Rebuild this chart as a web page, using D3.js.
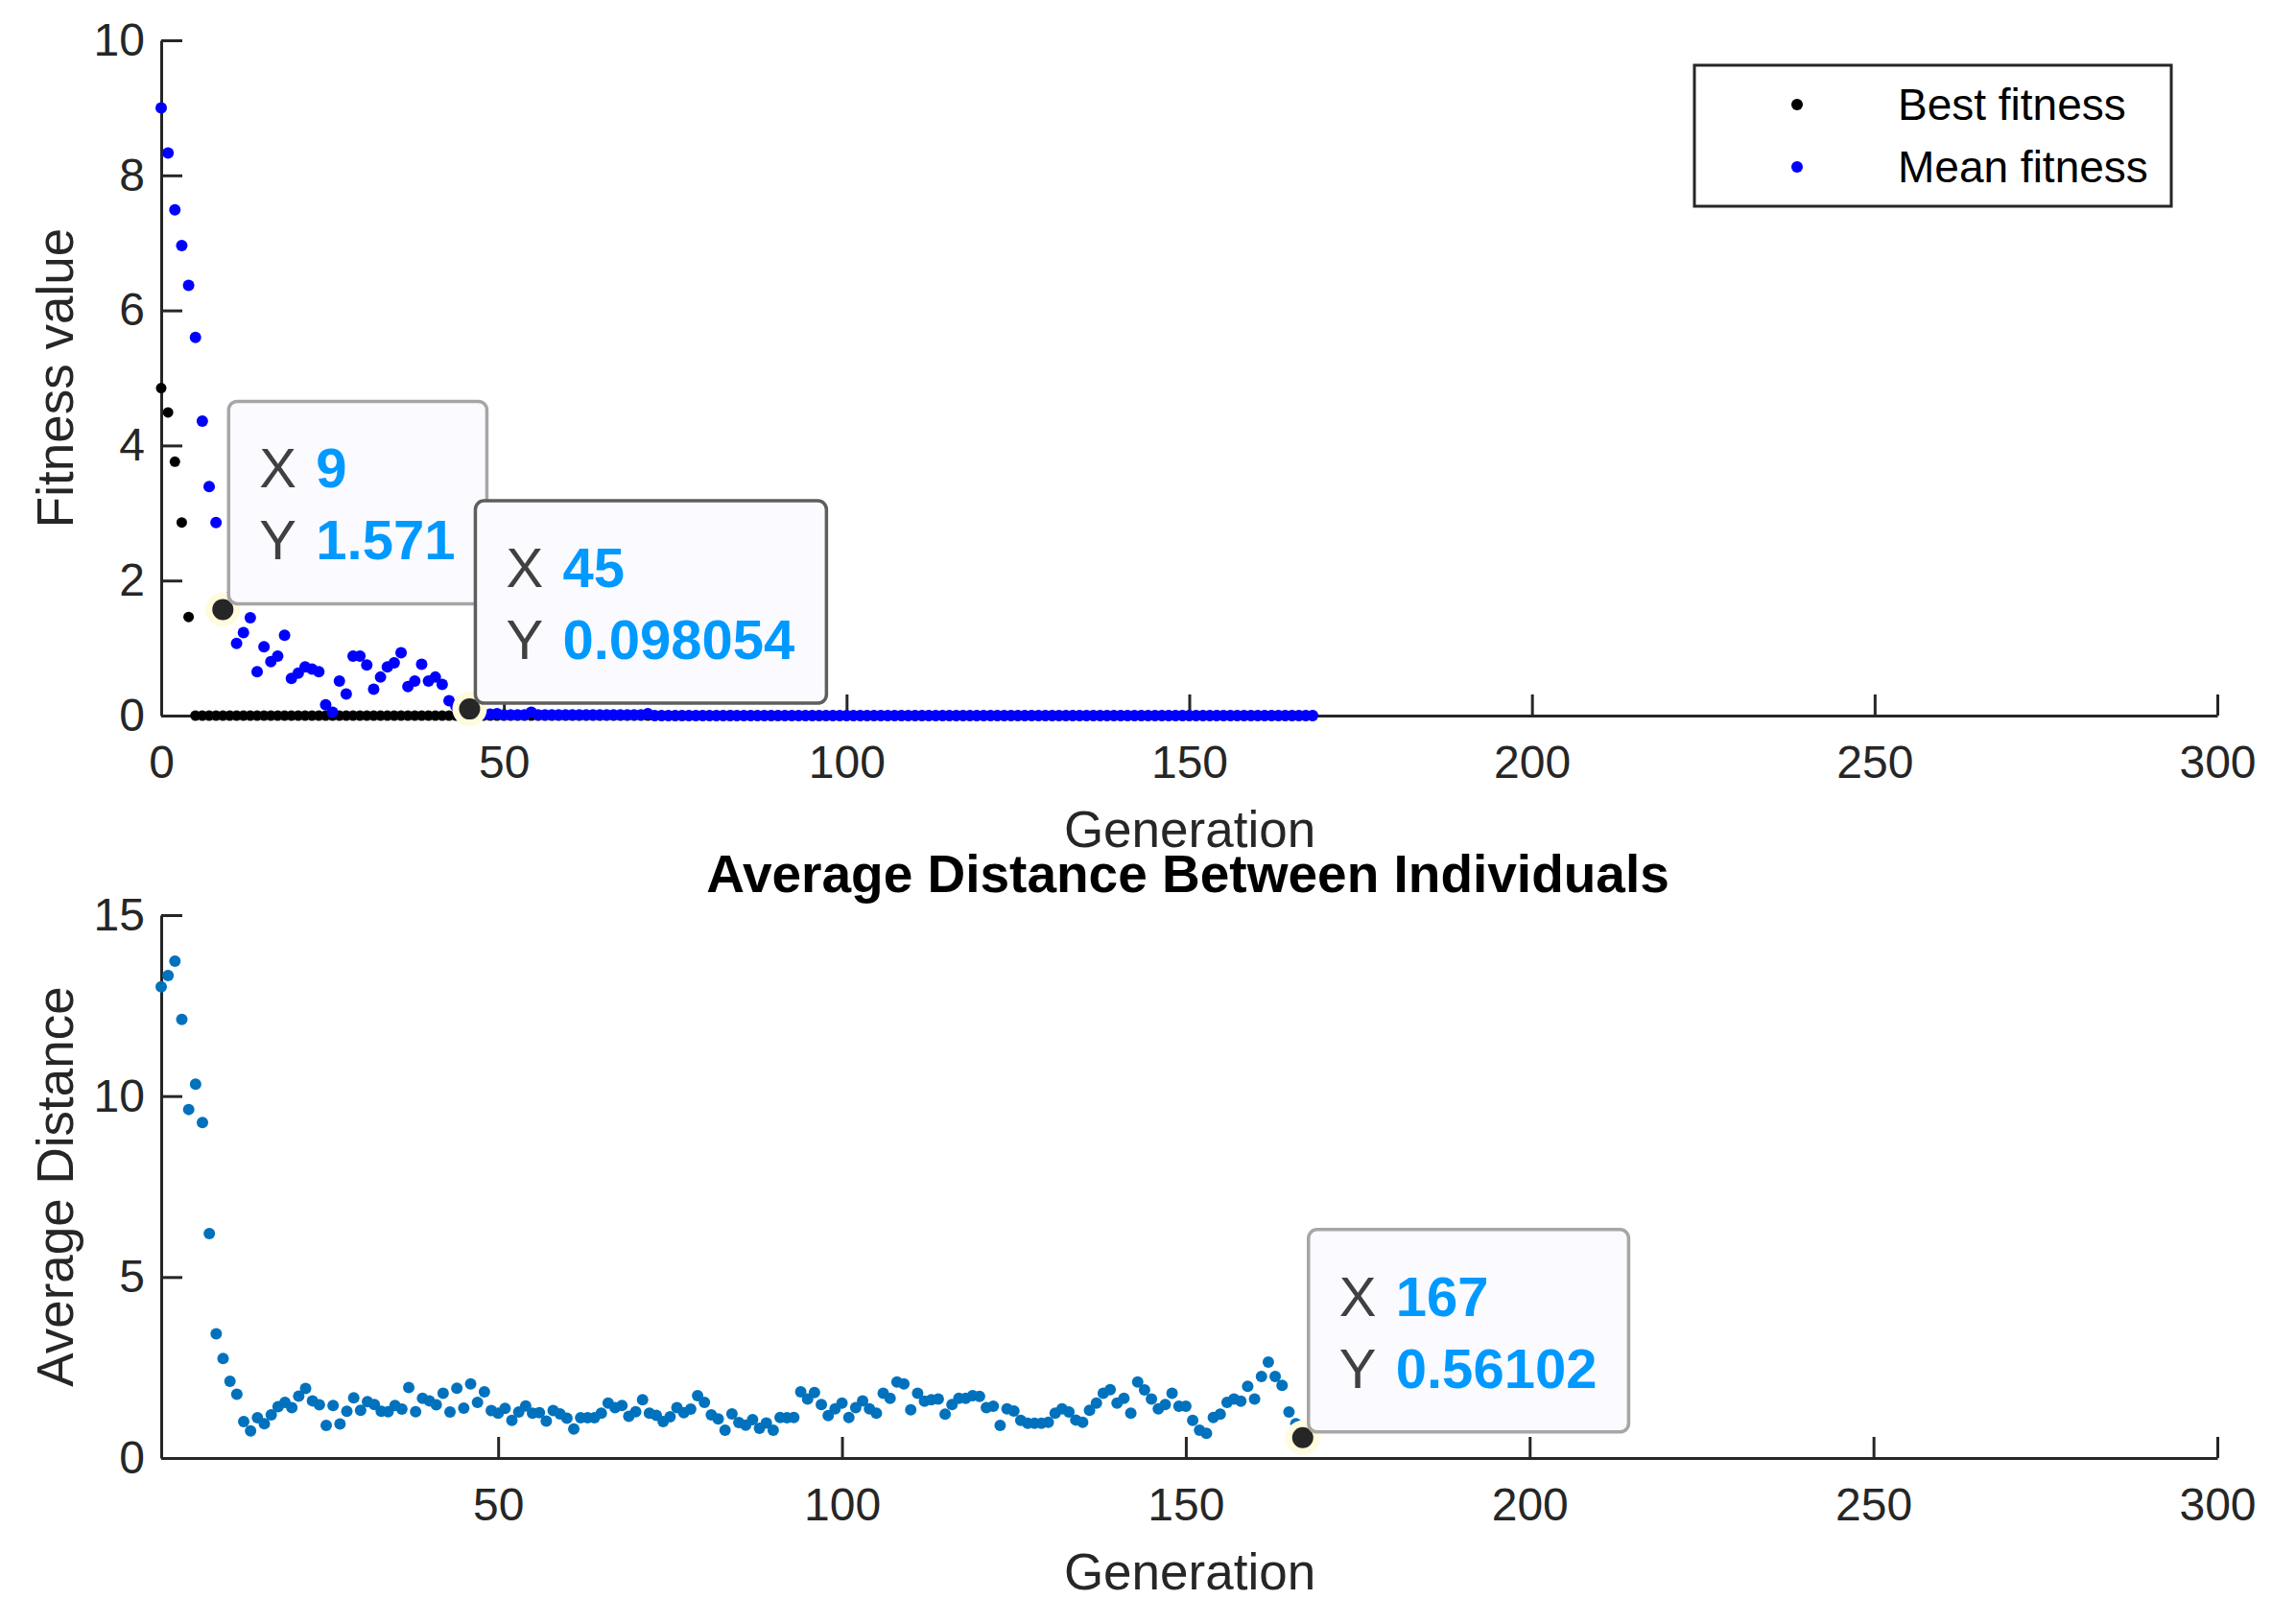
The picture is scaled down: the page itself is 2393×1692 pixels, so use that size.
<!DOCTYPE html>
<html>
<head>
<meta charset="utf-8">
<script src="https://cdn.jsdelivr.net/npm/d3@7"></script>
<style>
  body { margin: 0; background: #fff; }
  svg { display: block; font-family: "Liberation Sans", Arial, Helvetica, sans-serif; }
</style>
</head>
<body>
<div class="chart"></div>
<script>
// generations 0..168 for the fitness plot
const fitGenerations = d3.range(0, 169);
const bestFitness = [
  4.85, 4.49, 3.76, 2.86, 1.46, 0, 0, 0, 0, 0, 0, 0, 0, 0, 0, 0, 0, 0, 0, 0,
  0, 0, 0, 0, 0, 0, 0, 0, 0, 0, 0, 0, 0, 0, 0, 0, 0, 0, 0, 0,
  0, 0, 0, 0, 0, 0, 0, 0, 0, 0, 0, 0, 0, 0, 0, 0, 0, 0, 0, 0,
  0, 0, 0, 0, 0, 0, 0, 0, 0, 0, 0, 0, 0, 0, 0, 0, 0, 0, 0, 0,
  0, 0, 0, 0, 0, 0, 0, 0, 0, 0, 0, 0, 0, 0, 0, 0, 0, 0, 0, 0,
  0, 0, 0, 0, 0, 0, 0, 0, 0, 0, 0, 0, 0, 0, 0, 0, 0, 0, 0, 0,
  0, 0, 0, 0, 0, 0, 0, 0, 0, 0, 0, 0, 0, 0, 0, 0, 0, 0, 0, 0,
  0, 0, 0, 0, 0, 0, 0, 0, 0, 0, 0, 0, 0, 0, 0, 0, 0, 0, 0, 0,
  0, 0, 0, 0, 0, 0, 0, 0, 0
];
const meanFitness = [
  9.00, 8.33, 7.49, 6.96, 6.37, 5.60, 4.36, 3.39, 2.86, 1.571,
  1.75, 1.07, 1.23, 1.45, 0.65, 1.02, 0.80, 0.88, 1.19, 0.55,
  0.63, 0.72, 0.69, 0.65, 0.16, 0.05, 0.51, 0.32, 0.88, 0.88,
  0.75, 0.39, 0.57, 0.72, 0.78, 0.93, 0.43, 0.51, 0.76, 0.51,
  0.57, 0.46, 0.22, 0.14, 0.11, 0.098054, 0.04, 0.03, 0.02, 0.03,
  0.01, 0.01, 0.01, 0.01, 0.05, 0.01, 0.01, 0.01, 0.01, 0.01,
  0.01, 0.01, 0.01, 0.01, 0.01, 0.01, 0.01, 0.01, 0.01, 0.01,
  0.01, 0.03, 0, 0, 0, 0, 0, 0, 0, 0,
  0, 0, 0, 0, 0, 0, 0, 0, 0, 0,
  0, 0, 0, 0, 0, 0, 0, 0, 0, 0,
  0, 0, 0, 0, 0, 0, 0, 0, 0, 0,
  0, 0, 0, 0, 0, 0, 0, 0, 0, 0,
  0, 0, 0, 0, 0, 0, 0, 0, 0, 0,
  0, 0, 0, 0, 0, 0, 0, 0, 0, 0,
  0, 0, 0, 0, 0, 0, 0, 0, 0, 0,
  0, 0, 0, 0, 0, 0, 0, 0, 0, 0,
  0, 0, 0, 0, 0, 0, 0, 0, 0
];

// generations 1..167 for the distance plot
const distGenerations = d3.range(1, 168);
const avgDistance = [
  13.02, 13.33, 13.73, 12.12, 9.63, 10.33, 9.27, 6.20, 3.43, 2.75,
  2.12, 1.76, 1.01, 0.75, 1.11, 0.95, 1.19, 1.42, 1.54, 1.39,
  1.71, 1.92, 1.58, 1.47, 0.90, 1.45, 0.94, 1.29, 1.66, 1.32,
  1.56, 1.48, 1.29, 1.28, 1.45, 1.35, 1.95, 1.28, 1.65, 1.58,
  1.47, 1.79, 1.27, 1.93, 1.38, 2.05, 1.54, 1.83, 1.31, 1.24,
  1.37, 1.04, 1.27, 1.44, 1.24, 1.25, 1.02, 1.31, 1.22, 1.10,
  0.80, 1.11, 1.11, 1.11, 1.24, 1.52, 1.39, 1.45, 1.15, 1.28,
  1.61, 1.24, 1.18, 1.01, 1.14, 1.39, 1.25, 1.35, 1.72, 1.54,
  1.19, 1.08, 0.77, 1.22, 0.98, 0.91, 1.06, 0.82, 0.97, 0.77,
  1.12, 1.11, 1.12, 1.83, 1.63, 1.81, 1.48, 1.17, 1.36, 1.52,
  1.12, 1.39, 1.58, 1.36, 1.24, 1.79, 1.65, 2.10, 2.05, 1.33,
  1.79, 1.57, 1.61, 1.63, 1.21, 1.48, 1.65, 1.65, 1.72, 1.70,
  1.39, 1.43, 0.90, 1.36, 1.30, 1.04, 0.96, 0.96, 0.96, 0.99,
  1.24, 1.36, 1.27, 1.05, 0.99, 1.32, 1.52, 1.79, 1.89, 1.52,
  1.65, 1.24, 2.10, 1.88, 1.63, 1.36, 1.48, 1.79, 1.43, 1.43,
  1.04, 0.77, 0.68, 1.12, 1.21, 1.54, 1.63, 1.57, 1.98, 1.63,
  2.25, 2.65, 2.25, 2.01, 1.27, 0.95, 0.56102
];

const topXTicks = [0, 50, 100, 150, 200, 250, 300];
const topYTicks = [0, 2, 4, 6, 8, 10];
const botXTicks = [50, 100, 150, 200, 250, 300];
const botYTicks = [0, 5, 10, 15];
const legendLabels = ["Best fitness", "Mean fitness"];

// data tips: generation and the value text shown
const tipsX = [9, 45, 167];
const tipsY = ["1.571", "0.098054", "0.56102"];

const w = 2393;
const h = 1692;
const axisColor = "#262626";

const svg = d3.select(".chart")
    .append("svg")
    .attr("width", w)
    .attr("height", h);

const xTop = d3.scaleLinear().domain([0, 300]).range([168, 2311]);
const yTop = d3.scaleLinear().domain([0, 10]).range([746, 42]);
const xBot = d3.scaleLinear().domain([1, 300]).range([168, 2311]);
const yBot = d3.scaleLinear().domain([0, 15]).range([1520, 954]);

const styleAxis = (g) => {
    g.select(".domain").attr("stroke", axisColor).attr("stroke-width", 3);
    g.selectAll(".tick line").attr("stroke", axisColor).attr("stroke-width", 3);
    g.selectAll(".tick text")
        .attr("fill", axisColor)
        .style("font-size", "48px")
        .style("font-family", "'Liberation Sans', Arial, sans-serif");
};

const drawAxes = (xs, ys, xTicks, yTicks) => {
    const ax = svg.append("g")
        .attr("transform", `translate(0, ${ys.range()[0]})`)
        .call(d3.axisBottom(xs).tickValues(xTicks).tickSizeInner(-22).tickSizeOuter(0).tickPadding(31).tickFormat(d3.format("d")));
    styleAxis(ax);
    const ay = svg.append("g")
        .attr("transform", `translate(${xs.range()[0]}, 0)`)
        .call(d3.axisLeft(ys).tickValues(yTicks).tickSizeInner(-22).tickSizeOuter(0).tickPadding(17).tickFormat(d3.format("d")));
    styleAxis(ay);
};

drawAxes(xTop, yTop, topXTicks, topYTicks);
drawAxes(xBot, yBot, botXTicks, botYTicks);

// top plot points
svg.append("g").selectAll("circle")
    .data(fitGenerations)
    .enter()
    .append("circle")
    .attr("cx", d => xTop(d))
    .attr("cy", (d, i) => yTop(bestFitness[i]))
    .attr("r", 5.5)
    .attr("fill", "#000");

svg.append("g").selectAll("circle")
    .data(fitGenerations)
    .enter()
    .append("circle")
    .attr("cx", d => xTop(d))
    .attr("cy", (d, i) => yTop(meanFitness[i]))
    .attr("r", 6)
    .attr("fill", "#0000ff");

// bottom plot points
svg.append("g").selectAll("circle")
    .data(distGenerations)
    .enter()
    .append("circle")
    .attr("cx", d => xBot(d))
    .attr("cy", (d, i) => yBot(avgDistance[i]))
    .attr("r", 6)
    .attr("fill", "#0072bd");

// labels
const label = (text, x, y, rot, size, weight, color) => {
    svg.append("text")
        .attr("transform", `translate(${x}, ${y}) rotate(${rot})`)
        .attr("text-anchor", "middle")
        .attr("fill", color)
        .style("font-size", size + "px")
        .style("font-weight", weight)
        .text(text);
};
label("Generation", 1240, 883, 0, 53, "normal", axisColor);
label("Fitness value", 76, 394, -90, 53, "normal", axisColor);
label("Average Distance Between Individuals", 1238, 930, 0, 55, "bold", "#000");
label("Generation", 1240, 1657, 0, 53, "normal", axisColor);
label("Average Distance", 76, 1237, -90, 53, "normal", axisColor);

// legend
const legend = svg.append("g").attr("id", "legend");
legend.append("rect")
    .attr("x", 1766).attr("y", 68)
    .attr("width", 497).attr("height", 147)
    .attr("fill", "#fff")
    .attr("stroke", axisColor)
    .attr("stroke-width", 3);
const legendColors = ["#000", "#0000ff"];
legendLabels.forEach((d, i) => {
    const cy = 109 + i * 65;
    legend.append("circle").attr("cx", 1873).attr("cy", cy).attr("r", 6).attr("fill", legendColors[i]);
    legend.append("text")
        .attr("x", 1978).attr("y", cy + 16)
        .attr("fill", "#000")
        .style("font-size", "46px")
        .text(d);
});

// data tips
const tipScales = [[xTop, yTop], [xTop, yTop], [xBot, yBot]];
const tipBorders = ["#a6a6a6", "#5e5e5e", "#a6a6a6"];
tipsX.forEach((gx, i) => {
    const [xs, ys] = tipScales[i];
    const px = xs(gx);
    const py = ys(+tipsY[i]);
    const g = svg.append("g").attr("class", "datatip");
    g.append("circle").attr("cx", px).attr("cy", py).attr("r", 18).attr("fill", "#fffbdc");
    g.append("circle").attr("cx", px).attr("cy", py).attr("r", 11).attr("fill", "#262626");

    const bx = px + 6;
    const by = py - 6 - 211;
    const box = g.append("rect")
        .attr("x", bx).attr("y", by)
        .attr("height", 211)
        .attr("rx", 9)
        .attr("fill", "#fafaff")
        .attr("stroke", tipBorders[i])
        .attr("stroke-width", 3.5);

    const rows = [["X", String(gx)], ["Y", tipsY[i]]];
    let maxEnd = 0;
    rows.forEach(([k, v], j) => {
        const base = by + 90 + j * 75;
        g.append("text")
            .attr("x", bx + 32).attr("y", base)
            .attr("fill", "#404040")
            .style("font-size", "58px")
            .text(k);
        const t = g.append("text")
            .attr("x", bx + 91).attr("y", base)
            .attr("fill", "#0099ff")
            .style("font-size", "58px")
            .style("font-weight", "bold")
            .text(v);
        maxEnd = Math.max(maxEnd, 91 + t.node().getComputedTextLength());
    });
    box.attr("width", maxEnd + 33);
});
</script>
</body>
</html>
